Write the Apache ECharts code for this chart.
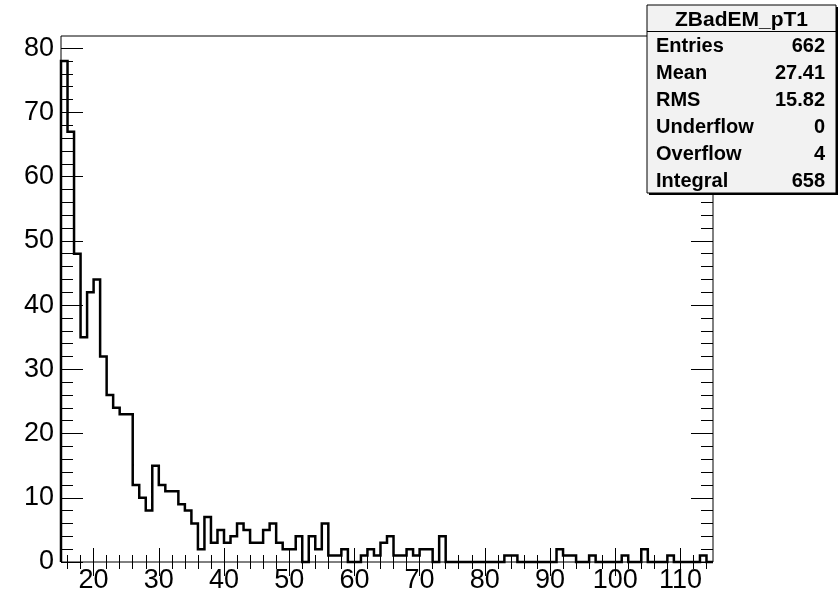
<!DOCTYPE html>
<html>
<head>
<meta charset="utf-8">
<script src="https://cdn.jsdelivr.net/npm/echarts@6/dist/echarts.min.js"></script>
<style>html,body{margin:0;padding:0;background:#fff;}#chart{width:838px;height:597px;}</style>
</head>
<body>
<div id="chart"></div>
<script>
// Histogram binning: 100 bins of width 1 starting at 15
const binLow = 15;
const binWidth = 1;
const counts = [
  78, 67, 48, 35, 42, 44, 32, 26, 24, 23,   // 15-24
  23, 12, 10,  8, 15, 12, 11, 11,  9,  8,   // 25-34
   6,  2,  7,  3,  5,  3,  4,  6,  5,  3,   // 35-44
   3,  5,  6,  3,  2,  2,  4,  0,  4,  2,   // 45-54
   6,  1,  1,  2,  0,  0,  1,  2,  1,  3,   // 55-64
   4,  1,  1,  2,  1,  2,  2,  0,  4,  0,   // 65-74
   0,  0,  0,  0,  0,  0,  0,  0,  1,  1,   // 75-84
   0,  0,  0,  0,  0,  0,  2,  1,  1,  0,   // 85-94
   0,  1,  0,  0,  0,  0,  1,  0,  0,  2,   // 95-104
   0,  0,  0,  1,  0,  0,  0,  0,  1,  0    // 105-114
];
const xMajorTicks = [20, 30, 40, 50, 60, 70, 80, 90, 100, 110];
const xMinorTicks = [16, 18, 22, 24, 26, 28, 32, 34, 36, 38, 42, 44, 46, 48, 52, 54, 56, 58, 62, 64, 66, 68, 72, 74, 76, 78, 82, 84, 86, 88, 92, 94, 96, 98, 102, 104, 106, 108, 112, 114];
const yMajorTicks = [0, 10, 20, 30, 40, 50, 60, 70, 80];
const yMinorTicks = [2, 4, 6, 8, 12, 14, 16, 18, 22, 24, 26, 28, 32, 34, 36, 38, 42, 44, 46, 48, 52, 54, 56, 58, 62, 64, 66, 68, 72, 74, 76, 78];
const statsTitle = 'ZBadEM_pT1';
const statsNames = ['Entries', 'Mean', 'RMS', 'Underflow', 'Overflow', 'Integral'];
const statsValues = ['662', '27.41', '15.82', '0', '4', '658'];

const xMin = binLow;
const xMax = binLow + counts.length * binWidth;
const yMax = Math.max.apply(null, counts) * 1.05;

// step outline points (bin low edges), closed to zero at both ends
const outline = [[xMin, 0]];
counts.forEach((c, i) => outline.push([binLow + i * binWidth, c]));
outline.push([xMax, counts[counts.length - 1]]);
outline.push([xMax, 0]);

const FONT = '"Liberation Sans", Arial, Helvetica, sans-serif';

function xAx(pos, ticks, len, labels) {
  return {
    type: 'value', position: pos, min: xMin, max: xMax,
    axisLine: { show: false }, splitLine: { show: false },
    axisTick: { show: true, inside: true, length: len, customValues: ticks, lineStyle: { color: '#000', width: 1 } },
    axisLabel: labels ? { show: true, customValues: ticks, fontSize: 27, color: '#000', fontFamily: FONT, margin: 5 } : { show: false }
  };
}
function yAx(pos, ticks, len, labels) {
  return {
    type: 'value', position: pos, min: 0, max: yMax,
    axisLine: { show: false }, splitLine: { show: false },
    axisTick: { show: true, inside: true, length: len, customValues: ticks, lineStyle: { color: '#000', width: 1 } },
    axisLabel: labels ? { show: true, customValues: ticks, fontSize: 27, color: '#000', fontFamily: FONT, margin: 7 } : { show: false }
  };
}

// stats box layout
const bx = 647, by = 5, bw = 189, bh = 188, headH = 26.5;
const rowH = (bh - headH) / statsNames.length;
const graphics = [
  { type: 'rect', z: 100, shape: { x: bx + 2, y: by + 2, width: bw, height: bh }, style: { fill: '#000' } },
  { type: 'rect', z: 101, shape: { x: bx, y: by, width: bw, height: bh }, style: { fill: '#f2f2f2', stroke: '#000', lineWidth: 1 } },
  { type: 'line', z: 102, shape: { x1: bx, y1: by + headH, x2: bx + bw, y2: by + headH }, style: { stroke: '#000', lineWidth: 1 } },
  { type: 'text', z: 103, x: bx + bw / 2, y: by + headH / 2 + 2, style: { text: statsTitle, fill: '#000', font: 'bold 21px ' + FONT, textAlign: 'center', textVerticalAlign: 'middle' } }
];
statsNames.forEach((n, i) => {
  const cy = by + headH + rowH * (i + 0.5) + 1.5;
  graphics.push({ type: 'text', z: 103, x: bx + 9, y: cy, style: { text: n, fill: '#000', font: 'bold 20px ' + FONT, textAlign: 'left', textVerticalAlign: 'middle' } });
  graphics.push({ type: 'text', z: 103, x: bx + bw - 11, y: cy, style: { text: statsValues[i], fill: '#000', font: 'bold 20px ' + FONT, textAlign: 'right', textVerticalAlign: 'middle' } });
});

const chart = echarts.init(document.getElementById('chart'), null, { renderer: 'canvas' });
chart.setOption({
  animation: false,
  backgroundColor: '#fff',
  grid: { left: 61, right: 125, top: 36, bottom: 35, show: true, borderColor: '#000', borderWidth: 1, backgroundColor: 'transparent', containLabel: false },
  xAxis: [
    xAx('bottom', xMajorTicks, 14, true),
    xAx('bottom', xMinorTicks, 7, false),
    xAx('top', xMajorTicks, 14, false),
    xAx('top', xMinorTicks, 7, false)
  ],
  yAxis: [
    yAx('left', yMajorTicks, 22, true),
    yAx('left', yMinorTicks, 12, false),
    yAx('right', yMajorTicks, 22, false),
    yAx('right', yMinorTicks, 12, false)
  ],
  series: [{
    type: 'line', xAxisIndex: 0, yAxisIndex: 0,
    data: outline, step: 'end', showSymbol: false, symbol: 'none', clip: false,
    lineStyle: { color: '#000', width: 2.5, join: 'miter', cap: 'butt' },
    z: 5
  }],
  graphic: { elements: graphics }
});
</script>
</body>
</html>
